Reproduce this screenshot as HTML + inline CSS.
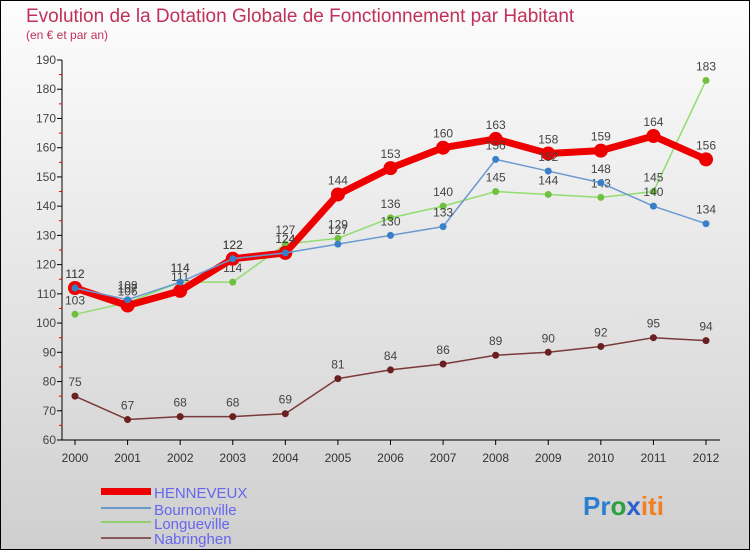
<!DOCTYPE html>
<html><head><meta charset="utf-8"><style>
body{margin:0}
#c{width:750px;height:550px;position:relative;overflow:hidden;font-family:"Liberation Sans",sans-serif}
</style></head><body>
<div id="c">
<svg id="s" width="750" height="550" xmlns="http://www.w3.org/2000/svg">
<defs><linearGradient id="bg" x1="0" y1="0" x2="0" y2="1"><stop offset="0" stop-color="#fdfdfd"/><stop offset="1" stop-color="#cfcfcf"/></linearGradient></defs>
<rect x="0.5" y="0.5" width="749" height="549" fill="url(#bg)" stroke="#000"/>
<text x="26" y="22" font-size="19" fill="#c0305a">Evolution de la Dotation Globale de Fonctionnement par Habitant</text>
<text x="26" y="39" font-size="12" fill="#c0305a">(en € et par an)</text>
<g id="axes"></g><g id="series"></g>
<g>
<rect x="101" y="488" width="50" height="7" fill="#e00"/>
<text x="154" y="498" font-size="15" fill="#6666ee">HENNEVEUX</text>
<line x1="101" y1="508" x2="151" y2="508" stroke="#6a9ac8" stroke-width="2"/>
<text x="154" y="515" font-size="15" fill="#6666ee">Bournonville</text>
<line x1="101" y1="522" x2="151" y2="522" stroke="#90d070" stroke-width="2"/>
<text x="154" y="529" font-size="15" fill="#6666ee">Longueville</text>
<line x1="101" y1="538" x2="151" y2="538" stroke="#8a5a5a" stroke-width="2"/>
<text x="154" y="544" font-size="15" fill="#6666ee">Nabringhen</text>
</g>
<text x="583" y="515" font-size="26" font-weight="bold"><tspan fill="#2a7fd0">Pr</tspan><tspan fill="#2aa040">o</tspan><tspan fill="#2a5fd0">x</tspan><tspan fill="#f08020">iti</tspan></text>
</svg></div>
<script>
const years=["2000","2001","2002","2003","2004","2005","2006","2007","2008","2009","2010","2011","2012"];
const yTicks=[60,70,80,90,100,110,120,130,140,150,160,170,180,190];
const henneveux=[112,106,111,122,124,144,153,160,163,158,159,164,156];
const bournonville=[112,108,114,122,124,127,130,133,156,152,148,140,134];
const longueville=[103,107,114,114,127,129,136,140,145,144,143,145,183];
const nabringhen=[75,67,68,68,69,81,84,86,89,90,92,95,94];
const NS="http://www.w3.org/2000/svg";
const X=i=>75+i*(631/12);
const Y=v=>440-(v-60)*(380/130);
function mk(p,t,a){const e=document.createElementNS(NS,t);for(const k in a)e.setAttribute(k,a[k]);p.appendChild(e);return e;}
const ax=document.getElementById('axes');
mk(ax,'line',{x1:62,y1:60,x2:62,y2:440,stroke:'#000'});
mk(ax,'line',{x1:62,y1:440,x2:720,y2:440,stroke:'#000'});
yTicks.forEach(v=>{
 mk(ax,'line',{x1:57,y1:Y(v),x2:62,y2:Y(v),stroke:'#000'});
 if(v<190)mk(ax,'line',{x1:59,y1:Y(v+5),x2:62,y2:Y(v+5),stroke:'#e00'});
 const t=mk(ax,'text',{x:56,y:Y(v)+4,'font-size':12,fill:'#444','text-anchor':'end'});t.textContent=v;
 
 
});
years.forEach((y,i)=>{
 mk(ax,'line',{x1:X(i),y1:440,x2:X(i),y2:445,stroke:'#000'});
 const t=mk(ax,'text',{x:X(i),y:462,'font-size':12,fill:'#333','text-anchor':'middle'});t.textContent=y;
 
 
});
const sg=document.getElementById('series');
function draw(data,name,color,dot,w,r){
 const g=mk(sg,'g',{});
 
 
 mk(g,'polyline',{points:data.map((v,i)=>X(i)+','+Y(v)).join(' '),fill:'none',stroke:color,'stroke-width':w,'stroke-linejoin':'round'});
 data.forEach((v,i)=>{
  const c=mk(g,'circle',{cx:X(i),cy:Y(v),r:r,fill:dot});
  
  
  const t=mk(g,'text',{x:X(i),y:Y(v)-10,'font-size':12,fill:'#444','text-anchor':'middle'});t.textContent=v;
  
  
 });
}
draw(nabringhen,'nabringhen','#7a3a3a','#6a2020',1.5,3.5);
draw(longueville,'longueville','#90dd70','#70c040',1.5,3.5);
draw(henneveux,'henneveux','#ee0000','#ee0000',7,7);
draw(bournonville,'bournonville','#6a9ad0','#3a80c8',1.5,3.5);
</script>
</body></html>
